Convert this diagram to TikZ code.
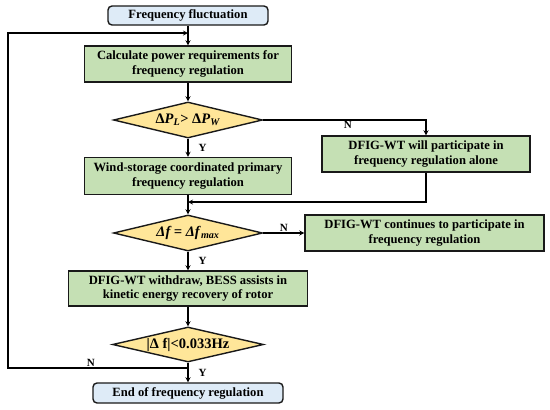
\documentclass[tikz,border=0pt]{standalone}
\usepackage{fontspec}
\setmainfont{Liberation Serif}
\usetikzlibrary{shapes.geometric}
\definecolor{termblue}{HTML}{DEEBF7}
\definecolor{stepgreen}{HTML}{C5E0B4}
\definecolor{testgold}{HTML}{FFE699}
\begin{document}
\begin{tikzpicture}[
        x=1pt, y=-1pt,
        >=stealth,
        every node/.style={font=\fontsize{12.6}{14.5}\selectfont\bfseries},
        box/.style={draw=black!90, line width=1.4pt, align=center, inner sep=2pt},
        term/.style={box, rounded corners=4pt, fill=termblue, minimum height=19pt},
        proc/.style={box, fill=stepgreen, minimum height=36pt},
        test/.style={box, diamond, aspect=4.2, fill=testgold, minimum width=149pt, minimum height=36pt, inner sep=0pt, font=\fontsize{14.5}{16}\selectfont\bfseries},
        lbl/.style={font=\fontsize{11}{13}\selectfont\bfseries, inner sep=1pt},
        rel/.style={->, line width=1.2pt}
    ]
        \useasboundingbox (0,0) rectangle (550,410);

        \node[term, minimum width=160pt] (start) at (188,15.5) {Frequency fluctuation};
        \node[proc, minimum width=207pt] (calc) at (188,64) {Calculate power requirements for\\frequency regulation};
        \node[test] (cmp-p) at (188,120) {Δ\textit{P}\textsubscript{\textit{L}}> Δ\textit{P}\textsubscript{\textit{W}}};
        \node[proc, minimum width=208pt] (alone) at (426,154) {DFIG-WT will participate in\\frequency regulation alone};
        \node[proc, minimum width=207pt, minimum height=37pt] (coord) at (188,176) {Wind-storage coordinated primary\\frequency regulation};
        \node[test] (cmp-f) at (188,233) {\textit{Δf = Δf}\textsubscript{\textit{max}}};
        \node[proc, minimum width=239pt] (continue) at (424.5,233) {DFIG-WT continues to participate in\\frequency regulation};
        \node[proc, minimum width=239pt, minimum height=35pt] (withdraw) at (188,288.5) {DFIG-WT withdraw, BESS assists in\\kinetic energy recovery of rotor};
        \node[test, minimum width=151pt, minimum height=35pt] (cmp-hz) at (188,344.5) {|Δ f|<0.033Hz};
        \node[term, minimum width=190pt, minimum height=20pt] (end) at (188,393) {End of frequency regulation};

        \coordinate (loop-in) at (188,33);
        \coordinate (loop-out) at (188,368);
        \coordinate (loop-left) at (8,200);
        \coordinate (merge) at (188,202);

        \draw[rel] (start) -- (calc);
        \draw[rel] (calc) -- (cmp-p);
        \draw[rel] (cmp-p) -- node[lbl, right=9pt] {Y} (coord);
        \draw[rel] (cmp-p.east) -| node[lbl, pos=0.26, below] {N} (alone);
        \draw[rel] (alone) |- (merge);
        \draw[rel] (coord) -- (cmp-f);
        \draw[rel] (cmp-f) -- node[lbl, above] {N} (continue);
        \draw[rel] (cmp-f) -- node[lbl, right=9pt] {Y} (withdraw);
        \draw[rel] (withdraw) -- (cmp-hz);
        \draw[rel] (cmp-hz) -- node[lbl, right=9pt] {Y} (end);
        \draw[rel] (loop-out) -| node[lbl, pos=0.27, above] {N} (loop-left) |- (loop-in);
    \end{tikzpicture}
\end{document}
